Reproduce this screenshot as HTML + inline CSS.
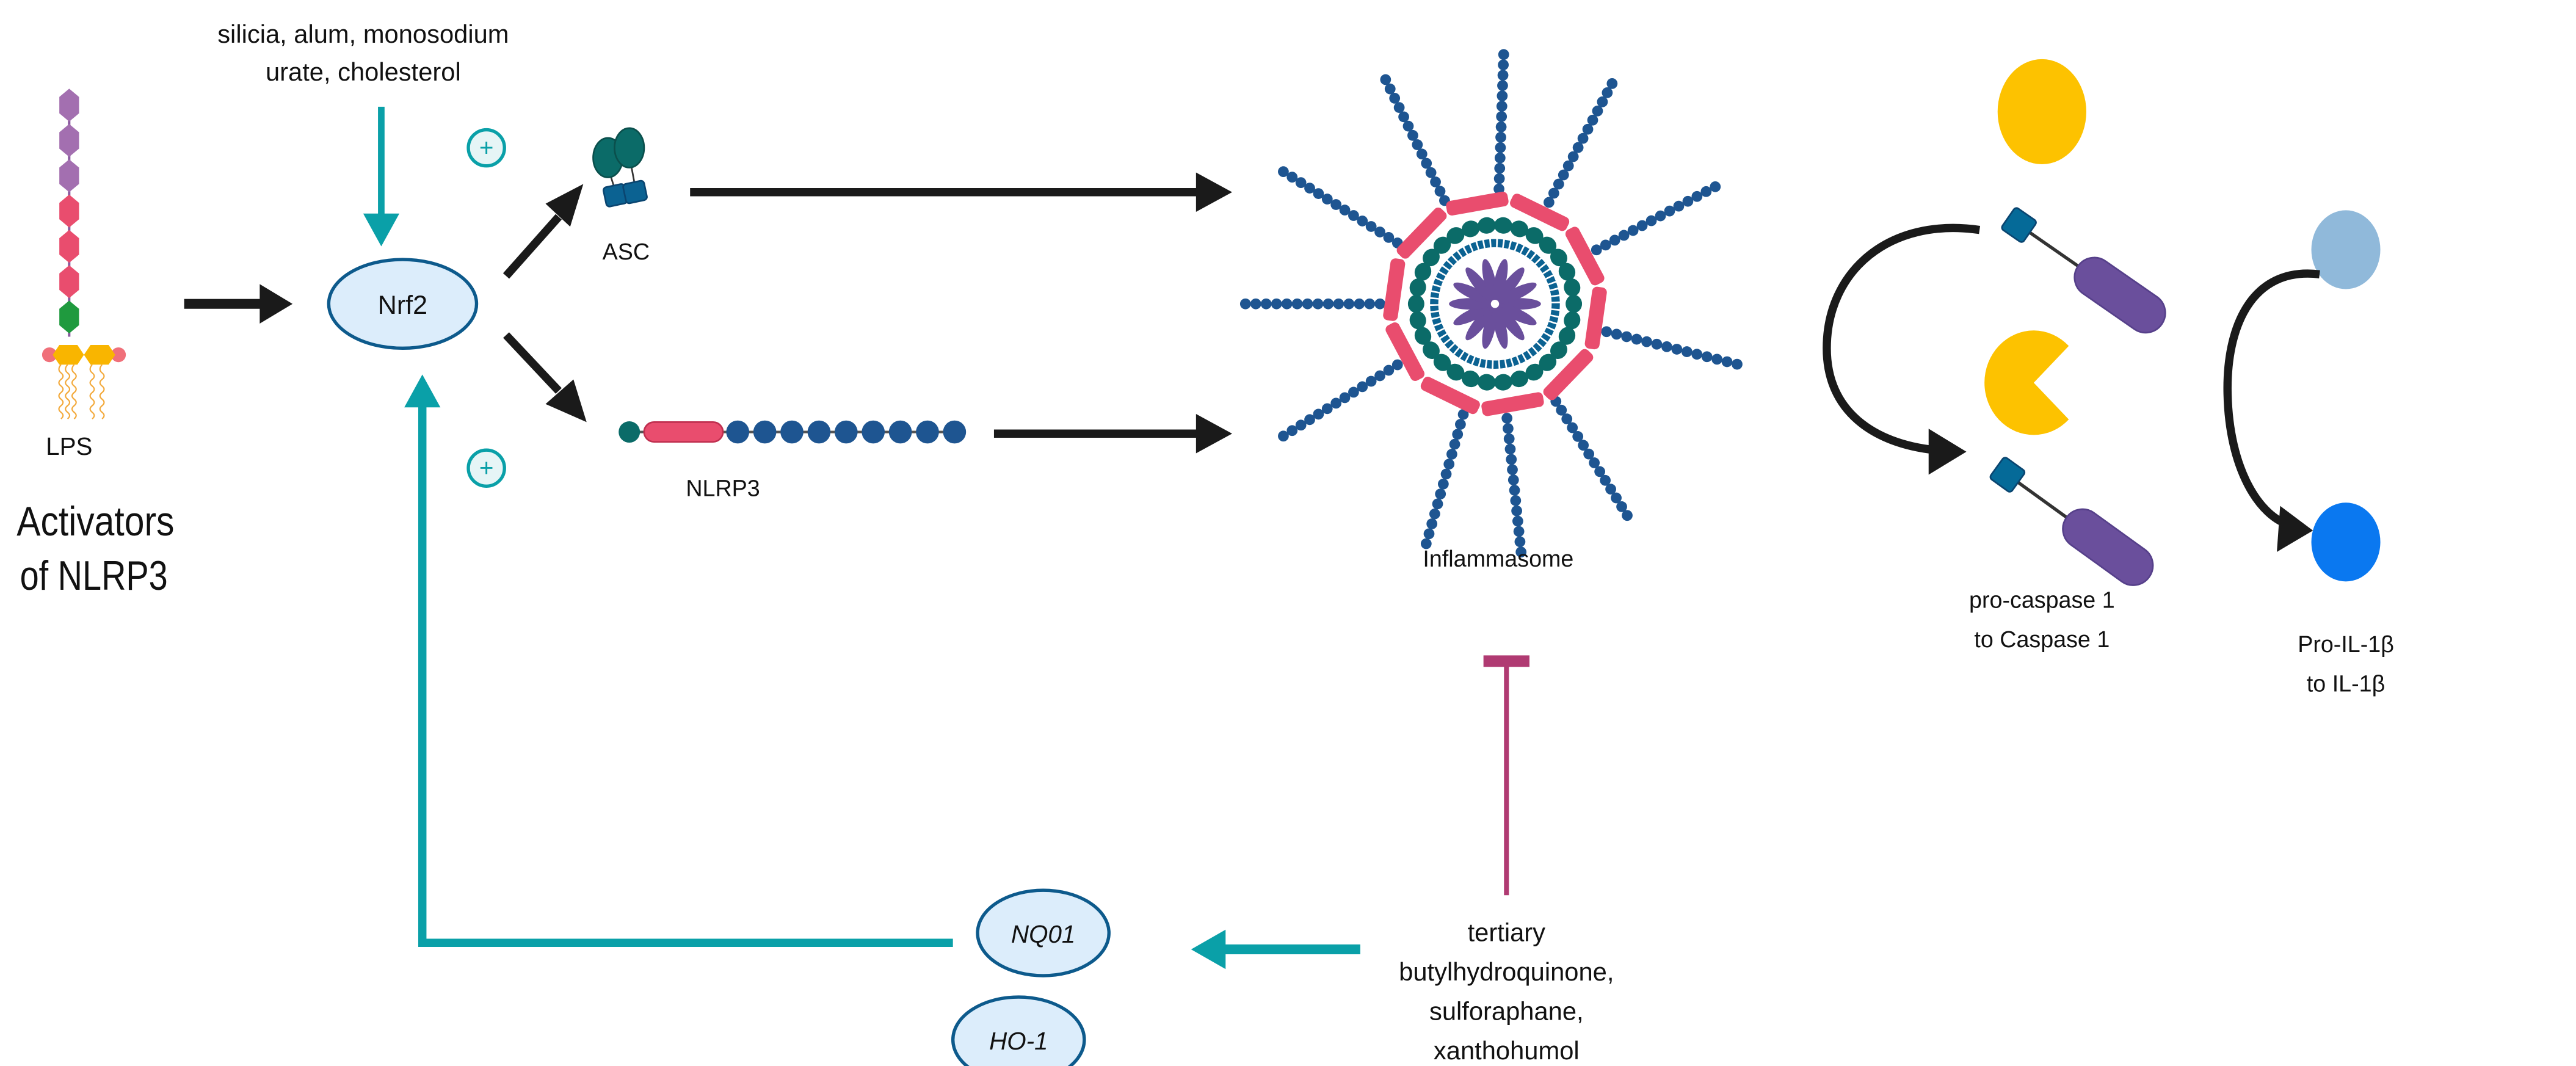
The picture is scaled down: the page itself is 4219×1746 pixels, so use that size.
<!DOCTYPE html>
<html><head><meta charset="utf-8"><style>
html,body{margin:0;padding:0;background:#fff}
svg{display:block}
text{font-family:"Liberation Sans",sans-serif;fill:#111}
</style></head><body>
<svg id="s" width="4219" height="1746" viewBox="0 0 1568 649" xmlns="http://www.w3.org/2000/svg">
<rect width="1568" height="649" fill="#fff"/>
<text x="221" y="26" font-size="15.5" text-anchor="middle">silicia, alum, monosodium</text>
<text x="221" y="49" font-size="15.5" text-anchor="middle">urate, cholesterol</text>
<line x1="232" y1="65" x2="232" y2="135" stroke="#0aa0a8" stroke-width="4"/>
<path d="M221,130L243,130L232,150z" fill="#0aa0a8"/>
<circle cx="296" cy="90" r="11" fill="#e6f5f6" stroke="#0aa0a8" stroke-width="2"/>
<text x="296" y="95" font-size="15" text-anchor="middle" style="fill:#0aa0a8">+</text>
<circle cx="296" cy="285" r="11" fill="#e6f5f6" stroke="#0aa0a8" stroke-width="2"/>
<text x="296" y="290" font-size="15" text-anchor="middle" style="fill:#0aa0a8">+</text>
<ellipse cx="245" cy="185" rx="45" ry="27" fill="#dcedfb" stroke="#0d5a8c" stroke-width="2"/>
<text x="245" y="191" font-size="16" text-anchor="middle">Nrf2</text>
<g id="lps"></g>
<text x="42" y="277" font-size="15" text-anchor="middle">LPS</text>
<text x="10" y="326" font-size="25" textLength="96" lengthAdjust="spacingAndGlyphs">Activators</text>
<text x="12" y="359" font-size="25" textLength="90" lengthAdjust="spacingAndGlyphs">of NLRP3</text>
<line x1="112" y1="185" x2="160" y2="185" stroke="#1a1a1a" stroke-width="6"/>
<path d="M158,173L178,185L158,197z" fill="#1a1a1a"/>
<line x1="308" y1="168" x2="340" y2="132" stroke="#1a1a1a" stroke-width="5"/>
<path d="M332,124L355,112L347,138z" fill="#1a1a1a"/>
<line x1="308" y1="204" x2="340" y2="238" stroke="#1a1a1a" stroke-width="5"/>
<path d="M332,246L357,257L349,231z" fill="#1a1a1a"/>
<line x1="420" y1="117" x2="730" y2="117" stroke="#1a1a1a" stroke-width="5"/>
<path d="M728,105L750,117L728,129z" fill="#1a1a1a"/>
<line x1="605" y1="264" x2="730" y2="264" stroke="#1a1a1a" stroke-width="5"/>
<path d="M728,252L750,264L728,276z" fill="#1a1a1a"/>
<g stroke="#333" stroke-width="1"><line x1="371" y1="105" x2="375" y2="118"/><line x1="384" y1="100" x2="387" y2="116"/></g>
<ellipse cx="370" cy="96" rx="9" ry="12" fill="#0b6b68" stroke="#0a4f4c"/>
<ellipse cx="383" cy="90" rx="9" ry="12" fill="#0b6b68" stroke="#0a4f4c"/>
<rect x="368" y="113" width="13" height="12" rx="2" fill="#0b6292" stroke="#0a4570" transform="rotate(-12 374 119)"/>
<rect x="380" y="111" width="13" height="12" rx="2" fill="#0b6292" stroke="#0a4570" transform="rotate(-12 386 117)"/>
<text x="381" y="158" font-size="14" text-anchor="middle">ASC</text>
<line x1="383" y1="263" x2="580" y2="263" stroke="#555" stroke-width="1.5"/>
<circle cx="383" cy="263" r="6.5" fill="#0b6b68"/>
<rect x="392" y="257" width="48" height="12" rx="6" fill="#e94d6e" stroke="#c03050"/>
<g id="nl"></g>
<text x="440" y="302" font-size="14" text-anchor="middle">NLRP3</text>
<g id="inf"></g>
<text x="912" y="345" font-size="14" text-anchor="middle">Inflammasome</text>
<line x1="917" y1="405" x2="917" y2="545" stroke="#b03a72" stroke-width="3"/>
<rect x="903" y="399" width="28" height="7" fill="#b03a72"/>
<text font-size="15.5" text-anchor="middle"><tspan x="917" y="573">tertiary</tspan><tspan x="917" y="597">butylhydroquinone,</tspan><tspan x="917" y="621">sulforaphane,</tspan><tspan x="917" y="645">xanthohumol</tspan></text>
<line x1="828" y1="578" x2="745" y2="578" stroke="#0aa0a8" stroke-width="6"/>
<path d="M746,566L725,578L746,590z" fill="#0aa0a8"/>
<ellipse cx="635" cy="568" rx="40" ry="26" fill="#dcedfb" stroke="#0d5a8c" stroke-width="2"/>
<text x="635" y="574" font-size="15" font-style="italic" text-anchor="middle">NQ01</text>
<ellipse cx="620" cy="633" rx="40" ry="26" fill="#dcedfb" stroke="#0d5a8c" stroke-width="2"/>
<text x="620" y="639" font-size="15" font-style="italic" text-anchor="middle">HO-1</text>
<polyline points="580,574 257,574 257,245" fill="none" stroke="#0aa0a8" stroke-width="5"/>
<path d="M246,248L268,248L257,228z" fill="#0aa0a8"/>
<ellipse cx="1243" cy="68" rx="27" ry="32" fill="#fdc200"/>
<g id="casp"></g>
<text x="1243" y="370" font-size="14" text-anchor="middle">pro-caspase 1</text>
<text x="1243" y="394" font-size="14" text-anchor="middle">to Caspase 1</text>
<ellipse cx="1428" cy="152" rx="21" ry="24" fill="#90b9da"/>
<ellipse cx="1428" cy="330" rx="21" ry="24" fill="#0a78f0"/>
<path d="M1412,167 C1370,162 1355,200 1356,240 C1357,285 1375,315 1395,320" fill="none" stroke="#1a1a1a" stroke-width="5"/>
<path d="M1388,308L1408,323L1386,336z" fill="#1a1a1a"/>
<text x="1428" y="397" font-size="14" text-anchor="middle">Pro-IL-1β</text>
<text x="1428" y="421" font-size="14" text-anchor="middle">to IL-1β</text>
</svg>
<script>
var NS="http://www.w3.org/2000/svg";
function el(p,t,a){var e=document.createElementNS(NS,t);for(var k in a)e.setAttribute(k,a[k]);p.appendChild(e);return e;}
var l=document.getElementById('lps');
el(l,'line',{x1:42,y1:58,x2:42,y2:205,stroke:'#8a5aa0','stroke-width':1.5});
var cols=['#a36fb0','#a36fb0','#a36fb0','#e94d6e','#e94d6e','#e94d6e','#1f9a3e'];
for(var i=0;i<7;i++){var y=64+i*21.5;el(l,'path',{d:'M42,'+(y-10)+'L48,'+(y-5)+'L48,'+(y+5)+'L42,'+(y+10)+'L36,'+(y+5)+'L36,'+(y-5)+'z',fill:cols[i]});}
el(l,'circle',{cx:30,cy:216,r:4.5,fill:'#f0707a'});el(l,'circle',{cx:72,cy:216,r:4.5,fill:'#f0707a'});
el(l,'path',{d:'M36,210L47,210L51,216L47,222L36,222L32,216z',fill:'#f9b500'});
el(l,'path',{d:'M55,210L66,210L70,216L66,222L55,222L51,216z',fill:'#f9b500'});
for(var j=0;j<5;j++){var x=[37,41,45,56,62][j];var d='M'+x+',222';for(var k=0;k<8;k++){d+=' Q'+(x+(k%2?2.5:-2.5))+','+(225+k*4)+' '+x+','+(227+k*4);}el(l,'path',{d:d,fill:'none',stroke:'#f3a93a','stroke-width':0.8});}
var n=document.getElementById('nl');
for(var i=0;i<9;i++)el(n,'circle',{cx:449+i*16.5,cy:263,r:7,fill:'#1e5591'});
var g=document.getElementById('inf'),cx=910,cy=185;
var sp=[-88,-62,-28,14,58,84,106,148,180,212,244];
sp.forEach(function(a){var r=a*Math.PI/180;for(var d=70;d<152;d+=6.3)el(g,'circle',{cx:cx+d*Math.cos(r),cy:cy+d*Math.sin(r),r:3.3,fill:'#1e5591'});});
for(var i=0;i<10;i++){var a=(i*36+8),r=a*Math.PI/180;var x=cx+62*Math.cos(r),y=cy+62*Math.sin(r);el(g,'rect',{x:x-19,y:y-4.5,width:38,height:9,rx:3,fill:'#e94d6e',transform:'rotate('+(a+90)+' '+x+' '+y+')'});}
for(var i=0;i<30;i++){var r=i*12*Math.PI/180;var ex=cx+48*Math.cos(r),ey=cy+48*Math.sin(r);el(g,'ellipse',{cx:ex,cy:ey,rx:5,ry:5.5,fill:'#0b6b68',transform:'rotate('+(i*12)+' '+ex+' '+ey+')'});}
el(g,'circle',{cx:cx,cy:cy,r:37,fill:'none',stroke:'#0b6292','stroke-width':5,'stroke-dasharray':'3 1'});
for(var i=0;i<14;i++){var a=i*360/14,r=a*Math.PI/180;var x=cx+15*Math.cos(r),y=cy+15*Math.sin(r);el(g,'ellipse',{cx:x,cy:y,rx:13,ry:3.5,fill:'#6a4f9c',transform:'rotate('+a+' '+x+' '+y+')'});}
el(g,'circle',{cx:cx,cy:cy,r:2.5,fill:'#fff'});
var c=document.getElementById('casp');
function unit(sx,sy,ex,ey){el(c,'line',{x1:sx,y1:sy,x2:ex,y2:ey,stroke:'#333','stroke-width':2});var a=Math.atan2(ey-sy,ex-sx)*180/Math.PI;
el(c,'rect',{x:sx-8,y:sy-8,width:16,height:16,rx:2,fill:'#056a98',stroke:'#0a4570',transform:'rotate('+a+' '+sx+' '+sy+')'});
var L=62;el(c,'rect',{x:ex,y:ey-12,width:L,height:24,rx:12,fill:'#6a4f9c',stroke:'#56408a',transform:'rotate('+a+' '+ex+' '+ey+')'});}
unit(1229,137,1265,162);
unit(1222,289,1258,315);
var pc=1238,pcy=233,R=30;
el(c,'path',{d:'M'+pc+','+pcy+' L'+(pc+R*Math.cos(-0.78))+','+(pcy+R*1.06*Math.sin(-0.78))+' A'+R+','+(R*1.06)+' 0 1 0 '+(pc+R*Math.cos(0.78))+','+(pcy+R*1.06*Math.sin(0.78))+' z',fill:'#fdc200'});
el(c,'path',{d:'M1205,140 C1150,132 1112,165 1112,212 C1112,250 1140,270 1178,274',fill:'none',stroke:'#1a1a1a','stroke-width':5});
el(c,'path',{d:'M1174,261L1197,275L1174,289z',fill:'#1a1a1a'});
</script>
</body></html>
